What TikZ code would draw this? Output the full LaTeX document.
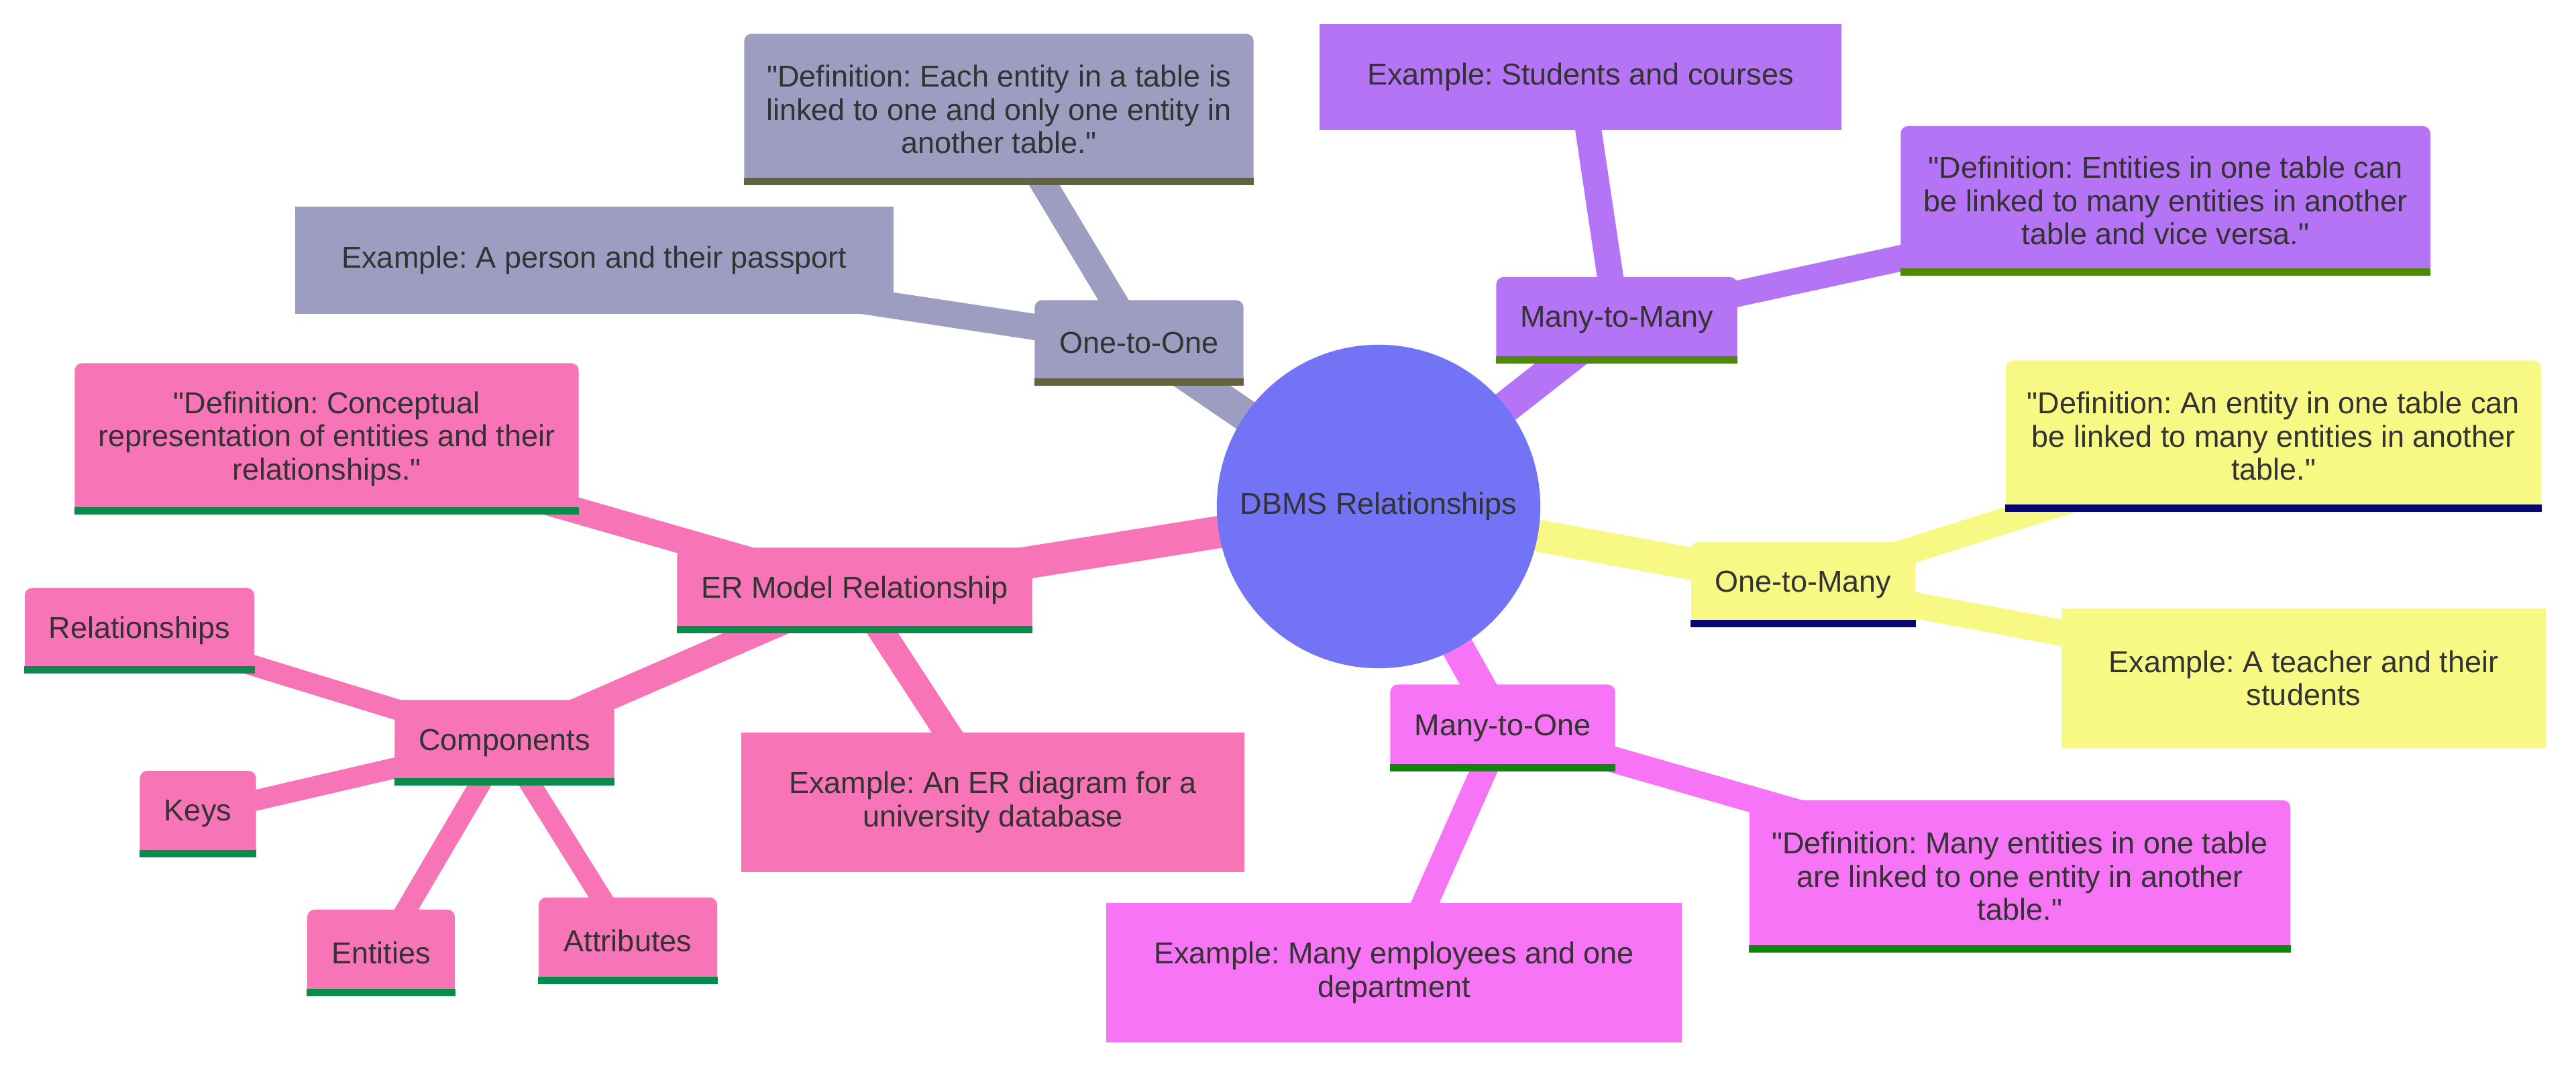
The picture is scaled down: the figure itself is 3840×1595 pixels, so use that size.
\documentclass[tikz,border=0pt]{standalone}
\usepackage{fontspec}
\setmainfont{Liberation Sans}
\usepackage{xcolor}
\usepackage{tikz}
\usetikzlibrary{backgrounds}
\frenchspacing
\definecolor{rootc}{HTML}{7274F5}
\definecolor{sone}{HTML}{9D9DC1}
\definecolor{soneline}{HTML}{626240}
\definecolor{stwo}{HTML}{B574F5}
\definecolor{stwoline}{HTML}{4D8B07}
\definecolor{sthree}{HTML}{F8F885}
\definecolor{sthreeline}{HTML}{070770}
\definecolor{sfour}{HTML}{F774F6}
\definecolor{sfourline}{HTML}{088A08}
\definecolor{sfive}{HTML}{F774B6}
\definecolor{sfiveline}{HTML}{098B4A}
\definecolor{txt}{HTML}{333333}

\begin{document}
\begin{tikzpicture}[x=0.01cm, y=-0.01cm,
			every node/.style={font=\fontsize{12.8}{14.1}\selectfont, text=txt, align=center, inner sep=0pt},
			branch/.style={rectangle, rounded corners=0.11cm, fill=#1},
			leaf/.style={rectangle, fill=#1},
			link0/.style={line width=0.48cm, draw=#1},
			link1/.style={line width=0.39cm, draw=#1},
			link2/.style={line width=0.31cm, draw=#1}]
			\useasboundingbox (0,0) rectangle (3840,1595);
			
			\node (root) at (2055,755) [circle, fill=rootc, minimum size=4.82cm] {DBMS Relationships};
			
			\node (o2o) at (1698,511) [branch=sone, minimum width=3.11cm, minimum height=1.27cm] {One-to-One};
			\node (o2odef) at (1489,163) [branch=sone, minimum width=7.59cm, minimum height=2.25cm] {\textquotedbl{}Definition: Each entity in a table is\\linked to one and only one entity in\\another table.\textquotedbl};
			\node (o2oex) at (886,388) [leaf=sone, minimum width=8.92cm, minimum height=1.59cm] {Example: A person and their passport};
			
			\node (m2m) at (2410,477) [branch=stwo, minimum width=3.59cm, minimum height=1.28cm] {Many-to-Many};
			\node (m2mex) at (2356,115) [leaf=stwo, minimum width=7.77cm, minimum height=1.57cm] {Example: Students and courses};
			\node (m2mdef) at (3228,299) [branch=stwo, minimum width=7.89cm, minimum height=2.22cm] {\textquotedbl{}Definition: Entities in one table can\\be linked to many entities in another\\table and vice versa.\textquotedbl};
			
			\node (o2m) at (2688,871) [branch=sthree, minimum width=3.34cm, minimum height=1.26cm] {One-to-Many};
			\node (o2mdef) at (3389,650) [branch=sthree, minimum width=7.98cm, minimum height=2.25cm] {\textquotedbl{}Definition: An entity in one table can\\be linked to many entities in another\\table.\textquotedbl};
			\node (o2mex) at (3434,1011) [leaf=sthree, minimum width=7.22cm, minimum height=2.08cm] {Example: A teacher and their\\students};
			
			\node (m2o) at (2240,1085) [branch=sfour, minimum width=3.35cm, minimum height=1.29cm] {Many-to-One};
			\node (m2odef) at (3011,1306) [branch=sfour, minimum width=8.06cm, minimum height=2.26cm] {\textquotedbl{}Definition: Many entities in one table\\are linked to one entity in another\\table.\textquotedbl};
			\node (m2oex) at (2078,1450) [leaf=sfour, minimum width=8.57cm, minimum height=2.08cm] {Example: Many employees and one\\department};
			
			\node (er) at (1274,880) [branch=sfive, minimum width=5.29cm, minimum height=1.27cm] {ER Model Relationship};
			\node (erdef) at (487,654) [branch=sfive, minimum width=7.51cm, minimum height=2.25cm] {\textquotedbl{}Definition: Conceptual\\representation of entities and their\\relationships.\textquotedbl};
			\node (erex) at (1480,1196) [leaf=sfive, minimum width=7.49cm, minimum height=2.08cm] {Example: An ER diagram for a\\university database};
			\node (comp) at (752,1107) [branch=sfive, minimum width=3.27cm, minimum height=1.27cm] {Components};
			\node (rel) at (208,940) [branch=sfive, minimum width=3.42cm, minimum height=1.27cm] {Relationships};
			\node (keys) at (295,1213) [branch=sfive, minimum width=1.73cm, minimum height=1.28cm] {Keys};
			\node (ent) at (568,1420) [branch=sfive, minimum width=2.20cm, minimum height=1.28cm] {Entities};
			\node (attr) at (936,1402) [branch=sfive, minimum width=2.66cm, minimum height=1.28cm] {Attributes};
			
			% bottom bands
			\foreach \n/\c in {o2o/soneline, o2odef/soneline, m2m/stwoline, m2mdef/stwoline, o2m/sthreeline, o2mdef/sthreeline, m2o/sfourline, m2odef/sfourline, er/sfiveline, erdef/sfiveline, comp/sfiveline, rel/sfiveline, keys/sfiveline, ent/sfiveline, attr/sfiveline}
				\fill[\c] (\n.south west) rectangle ([yshift=0.11cm]\n.south east);
			
			\begin{pgfonlayer}{background}
				\draw[link0=sone] (root.center) -- (o2o.center);
				\draw[link0=stwo] (root.center) -- (m2m.center);
				\draw[link0=sthree] (root.center) -- (o2m.center);
				\draw[link0=sfour] (root.center) -- (m2o.center);
				\draw[link0=sfive] (root.center) -- (er.center);
				\draw[link1=sone] (o2o.center) -- (o2odef.center);
				\draw[link1=sone] (o2o.center) -- (o2oex.center);
				\draw[link1=stwo] (m2m.center) -- (m2mex.center);
				\draw[link1=stwo] (m2m.center) -- (m2mdef.center);
				\draw[link1=sthree] (o2m.center) -- (o2mdef.center);
				\draw[link1=sthree] (o2m.center) -- (o2mex.center);
				\draw[link1=sfour] (m2o.center) -- (m2odef.center);
				\draw[link1=sfour] (m2o.center) -- (m2oex.center);
				\draw[link1=sfive] (er.center) -- (erdef.center);
				\draw[link1=sfive] (er.center) -- (erex.center);
				\draw[link1=sfive] (er.center) -- (comp.center);
				\draw[link2=sfive] (comp.center) -- (rel.center);
				\draw[link2=sfive] (comp.center) -- (keys.center);
				\draw[link2=sfive] (comp.center) -- (ent.center);
				\draw[link2=sfive] (comp.center) -- (attr.center);
			\end{pgfonlayer}
		\end{tikzpicture}
\end{document}
